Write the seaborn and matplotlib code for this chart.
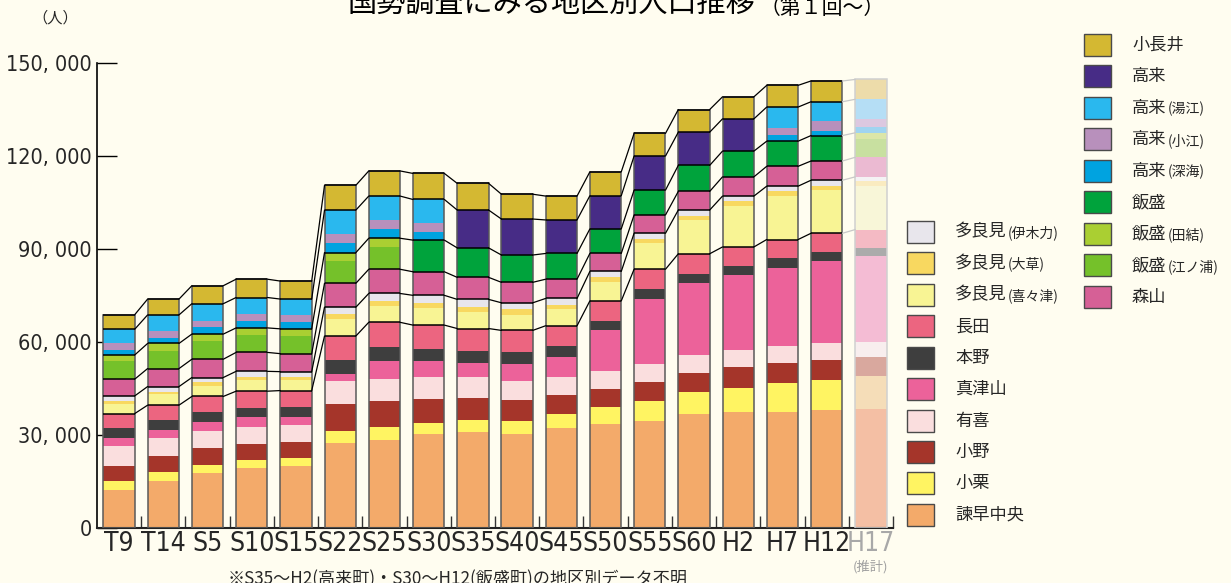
import numpy as np
import pandas as pd
import matplotlib
matplotlib.use("Agg")
import matplotlib.pyplot as plt
from matplotlib.patches import Rectangle
from matplotlib import font_manager as fm
import seaborn as sns

# ---------------- data ----------------
periods = ["T9", "T14", "S5", "S10", "S15", "S22", "S25", "S30", "S35",
           "S40", "S45", "S50", "S55", "S60", "H2", "H7", "H12", "H17"]

# stacked bottom -> top
isahaya_chuo = [12500, 15200, 17800, 19400, 20000, 27500, 28400, 30300, 31000, 30500, 32400, 33500, 34500, 36800, 37400, 37400, 38100, 38400]
oguri        = [2800, 2900, 2500, 2500, 2600, 3800, 4300, 3700, 3800, 4000, 4400, 5500, 6500, 7100, 7700, 9400, 9600, 10700]
ono          = [4800, 5100, 5500, 5200, 5100, 8700, 8400, 7600, 7200, 6900, 6100, 5800, 6100, 6100, 6900, 6400, 6500, 6000]
uki          = [6300, 5800, 5500, 5600, 5500, 7500, 7000, 7100, 6800, 6100, 5800, 5800, 5800, 5800, 5400, 5500, 5600, 4900]
matsuyama    = [2700, 2600, 2900, 3200, 2700, 2300, 5800, 5300, 4500, 5500, 6500, 13300, 21000, 23300, 24200, 25200, 26300, 27800]
motono       = [3100, 3200, 3200, 2900, 3100, 4400, 4500, 3700, 3800, 3800, 3500, 2900, 3200, 2800, 2900, 3200, 2900, 2600]
nagata       = [4800, 4900, 5100, 5400, 5400, 7800, 8000, 7800, 7300, 7000, 6600, 6500, 6400, 6600, 6200, 6000, 6100, 5900]
tarami_kikitsu = [3000, 3500, 3400, 3500, 3300, 5500, 5300, 5600, 5400, 5100, 5500, 6100, 8500, 10900, 13300, 14000, 14000, 14100]
tarami_okusa   = [900, 900, 1200, 1000, 1000, 1500, 1500, 1500, 1500, 1900, 1100, 1500, 1200, 1400, 1500, 1500, 1400, 1500]
tarami_ikiriki = [1800, 1600, 1500, 1900, 1800, 2300, 2500, 2500, 2500, 1900, 2200, 1900, 1900, 1800, 1600, 1700, 1700, 1400]
moriyama     = [5400, 5800, 5900, 6100, 5800, 7700, 7800, 7600, 7100, 6600, 6200, 5800, 5900, 6000, 6200, 6400, 6200, 6300]
isahai_enoura = [5700, 5700, 5800, 5700, 5700, 7100, 7200, 0, 0, 0, 0, 0, 0, 0, 0, 0, 0, 5900]
isahai_tai    = [2100, 2400, 2300, 2200, 2300, 2800, 2800, 0, 0, 0, 0, 0, 0, 0, 0, 0, 0, 2000]
isahai        = [0, 0, 0, 0, 0, 0, 0, 10200, 9500, 8800, 8300, 7900, 8000, 8400, 8300, 8100, 8200, 0]
takaki_fukami = [1600, 1900, 2200, 2200, 2300, 3000, 3000, 2700, 0, 0, 0, 0, 0, 0, 0, 1900, 1600, 1900]
takaki_oe     = [2100, 2000, 2000, 2300, 2100, 3000, 2900, 2900, 0, 0, 0, 0, 0, 0, 0, 2500, 3000, 2400]
takaki_yue    = [4600, 5300, 5600, 5300, 5200, 7700, 7700, 7500, 0, 0, 0, 0, 0, 0, 0, 6600, 6300, 6500]
takaki        = [0, 0, 0, 0, 0, 0, 0, 0, 12200, 11600, 10800, 10700, 11000, 10700, 10400, 0, 0, 0]
konagai       = [4700, 5100, 5800, 5900, 5800, 8000, 8100, 8400, 8600, 8000, 7700, 7700, 7300, 7300, 7100, 7000, 6700, 6400]

series_values = [isahaya_chuo, oguri, ono, uki, matsuyama, motono, nagata,
                 tarami_kikitsu, tarami_okusa, tarami_ikiriki, moriyama,
                 isahai_enoura, isahai_tai, isahai, takaki_fukami, takaki_oe,
                 takaki_yue, takaki, konagai]
series_main = ["諫早中央", "小栗", "小野", "有喜", "真津山", "本野", "長田",
               "多良見", "多良見", "多良見", "森山", "飯盛", "飯盛", "飯盛",
               "高来", "高来", "高来", "高来", "小長井"]
series_sub = ["", "", "", "", "", "", "", "(喜々津)", "(大草)", "(伊木力)", "",
              "(江ノ浦)", "(田結)", "", "(深海)", "(小江)", "(湯江)", "", ""]
series_colors = ["#F3AA6A", "#FFF462", "#A5352A", "#FADEDE", "#EC629A", "#3E3E3E",
                 "#EC6580", "#F8F494", "#F8D860", "#E8E6EC", "#D66096", "#75C12A",
                 "#AACF32", "#00A33C", "#00A3E0", "#B890BC", "#2AB8EE", "#472C86",
                 "#D4B832"]
estimate_colors = ["#F4BFA4", "#F5DDB8", "#D9A89E", "#F8EEEE", "#F4BCD4", "#ABABAB",
                   "#F4BAC4", "#F8F6D8", "#FAEBC0", "#F4F2F4", "#EBBAD2", "#C8E0A0",
                   "#DCE6A8", "#C0E0B0", "#A0D4F0", "#DCC8E0", "#B5DEF5", "#B8B0D0",
                   "#EDDCAA"]
group_ends = [6, 9, 10, 13, 17, 18]
yticks = [0, 30000, 60000, 90000, 120000, 150000]

# ---------------- style ----------------
BG = "#FFFDF0"
sns.set_theme(style="white")
plt.rcParams["font.family"] = ["Noto Sans CJK JP", "DejaVu Sans"]
plt.rcParams["figure.facecolor"] = BG
plt.rcParams["axes.facecolor"] = BG

# look for an installed condensed sans for the numeric tick labels
narrow_file = None
best = -1
for f in fm.fontManager.ttflist:
    nm = f.name.lower()
    is_narrow = ("narrow" in nm or "condensed" in nm or "condensed" in str(f.stretch))
    if not is_narrow or f.style != "normal":
        continue
    w = f.weight if isinstance(f.weight, int) else {"normal": 400, "regular": 400}.get(str(f.weight), 0)
    if w != 400:
        continue
    score = 2 if "sans" in nm else 1
    if score > best:
        best, narrow_file = score, f.fname

if narrow_file:
    ytick_fp = fm.FontProperties(fname=narrow_file, size=15.5)
    xtick_fp = fm.FontProperties(fname=narrow_file, size=19)
    fmt = lambda v: f"{v:,}".replace(",", ", ")
else:
    ytick_fp = fm.FontProperties(family="DejaVu Sans", size=14)
    xtick_fp = fm.FontProperties(family="DejaVu Sans", size=14.5)
    fmt = lambda v: f"{v:,}"

W, H = 1231, 583
fig = plt.figure(figsize=(W / 100, H / 100), dpi=100)
fx = lambda x: x / W
fy = lambda y: 1 - y / H

ax = fig.add_axes([fx(97), fy(528.3), fx(893) - fx(97), fy(63) - fy(528.3)])

n = len(periods)
vals = np.array(series_values, dtype=float)
cums = np.cumsum(vals, axis=0)
bw = 0.71

# draw cumulative layers from top to bottom (overdraw gives stacked bars)
for k in range(len(series_values) - 1, -1, -1):
    d = pd.DataFrame({"period": periods, "value": cums[k]})
    pal = {p: series_colors[k] for p in periods}
    pal["H17"] = estimate_colors[k]
    sns.barplot(data=d, x="period", y="value", hue="period", order=periods,
                hue_order=periods, palette=pal, dodge=False, width=bw,
                saturation=1, errorbar=None, legend=False, ax=ax,
                edgecolor="none", linewidth=0)

# outlines, group boundaries, connectors
for i in range(n):
    est = periods[i] == "H17"
    total = cums[-1, i]
    ax.add_patch(Rectangle((i - bw / 2, 0), bw, total, fill=False,
                           edgecolor="#D0D0D0" if est else "#5A5A5A",
                           lw=1.1, zorder=5))
    if not est:
        for g in group_ends:
            ax.plot([i - bw / 2, i + bw / 2], [cums[g, i]] * 2,
                    color="black", lw=1.1, zorder=6, solid_capstyle="butt")
    if i < n - 1:
        nxt_est = periods[i + 1] == "H17"
        for g in group_ends:
            ax.plot([i + bw / 2, i + 1 - bw / 2], [cums[g, i], cums[g, i + 1]],
                    color="#C8C8C8" if nxt_est else "black", lw=0.9, zorder=6)

# axes
ax.set_xlim(-0.5, n - 0.5)
ax.set_ylim(0, 150000)
ax.set_xlabel("")
ax.set_ylabel("")
for s in ["top", "right"]:
    ax.spines[s].set_visible(False)
ax.spines["left"].set_color("black")
ax.spines["left"].set_linewidth(1.2)
ax.spines["bottom"].set_color("#222222")
ax.spines["bottom"].set_linewidth(1.5)

ax.set_yticks(yticks)
ax.set_yticklabels(["0" if v == 0 else fmt(v) for v in yticks])
for lab in ax.get_yticklabels():
    lab.set_fontproperties(ytick_fp)
ax.tick_params(axis="y", direction="in", length=14.4, width=1.0, color="black",
               pad=3.6, left=True)

ax.set_xticks(range(n))
ax.set_xticklabels(periods)
for lab in ax.get_xticklabels():
    lab.set_fontproperties(xtick_fp)
    if lab.get_text() == "H17":
        lab.set_color("#A8A8A8")
ax.set_xticks(np.arange(0.5, n, 1.0), minor=True)
ax.tick_params(axis="x", which="major", length=0, pad=2)
ax.tick_params(axis="x", which="minor", direction="in", length=8.6, width=1.0,
               color="#333333", bottom=True)

fig.text(fx(871), fy(567), "(推計)", fontsize=9.5, color="#A0A0A0",
         ha="center", va="center")

# title and unit
fig.text(fx(347), fy(20), "国勢調査にみる地区別人口推移", fontsize=21,
         ha="left", va="bottom", color="black")
fig.text(fx(760), fy(18.5), "（第１回～）", fontsize=15,
         ha="left", va="bottom", color="black")
fig.text(fx(55), fy(18), "（人）", fontsize=11, ha="center", va="center")

# footnote
fig.text(fx(228), fy(570), "※S35～H2(高来町)・S30～H12(飯盛町)の地区別データ不明",
         fontsize=12.3, ha="left", va="top")

# legends (manual)
def legend_entry(k, sq_x, txt_x, yc):
    fig.add_artist(Rectangle((fx(sq_x), fy(yc + 11)), 27 / W, 22 / H,
                             transform=fig.transFigure,
                             facecolor=series_colors[k], edgecolor="#4A4A4A", lw=1.0))
    fs_main = 12.4
    fig.text(fx(txt_x), fy(yc), series_main[k], fontsize=fs_main,
             ha="left", va="center")
    if series_sub[k]:
        w_main = len(series_main[k]) * fs_main / 0.72
        fig.text(fx(txt_x + w_main + 1), fy(yc + 1), series_sub[k], fontsize=10,
                 ha="left", va="center")

left_order = [9, 8, 7, 6, 5, 4, 3, 2, 1, 0]
for j, k in enumerate(left_order):
    legend_entry(k, 907, 955, 231.7 + j * 31.47)

right_order = [18, 17, 16, 15, 14, 13, 12, 11, 10]
for j, k in enumerate(right_order):
    legend_entry(k, 1084, 1132, 45 + j * 31.47)

fig.savefig("out.png", dpi=100, facecolor=BG)
